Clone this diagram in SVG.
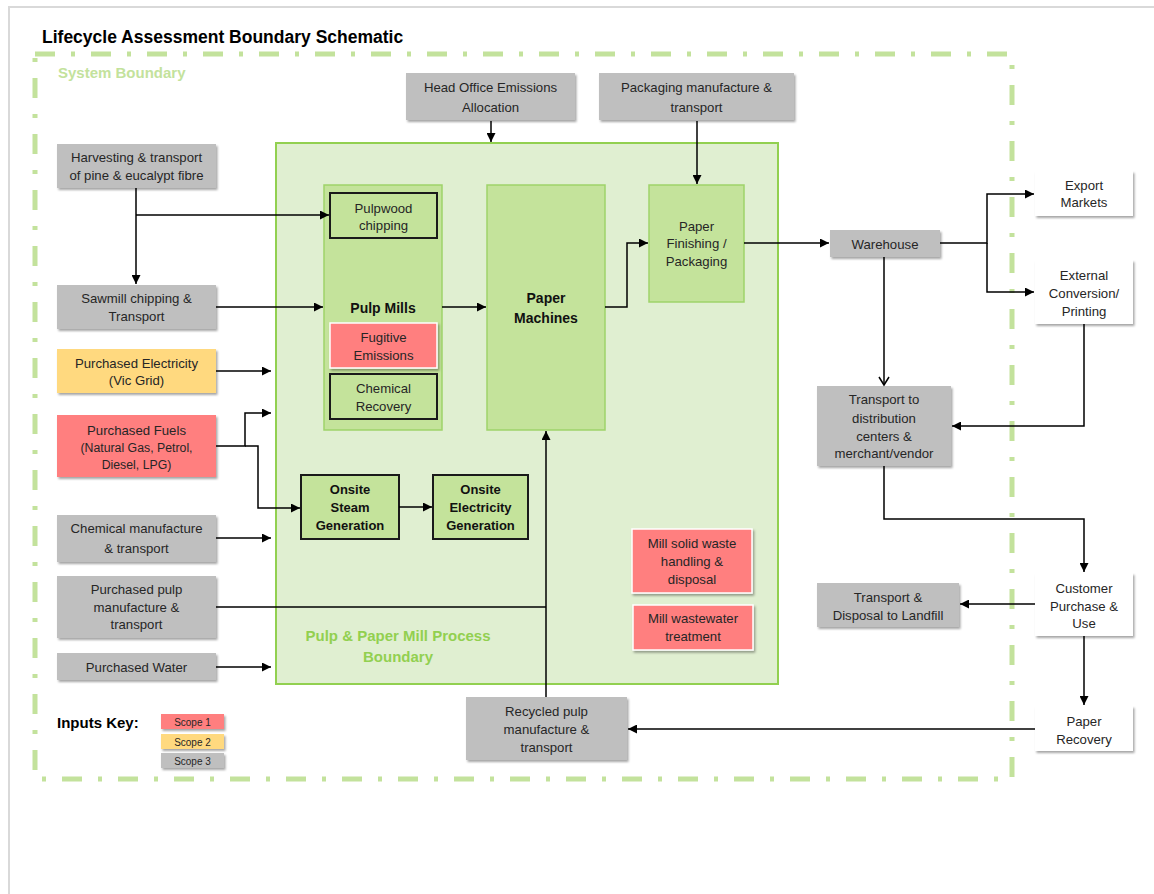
<svg xmlns="http://www.w3.org/2000/svg" width="1154" height="894" viewBox="0 0 1154 894">
<style>
text{font-family:"Liberation Sans",Arial,sans-serif;fill:#262626;text-anchor:middle;dominant-baseline:central}
.n{font-size:13.2px}
.b{font-weight:bold;font-size:13px;fill:#111}
.gray{fill:#bfbfbf}
.red{fill:#ff7f7f}
.yel{fill:#ffd97f}
.wht{fill:#ffffff}
.sh{filter:url(#ds)}
.g1{fill:#c4e39b;stroke:#9ed36a;stroke-width:1.5}
.g2{fill:#c4e39b;stroke:#1a1a1a;stroke-width:2}
.c{fill:none;stroke:#000;stroke-width:1.5}
</style>
<defs>
<filter id="ds" x="-10%" y="-10%" width="130%" height="140%">
<feDropShadow dx="1.5" dy="2" stdDeviation="1.2" flood-color="#000" flood-opacity="0.35"/>
</filter>
<marker id="a" markerWidth="10" markerHeight="9" refX="9" refY="4.5" orient="auto" markerUnits="userSpaceOnUse">
<path d="M0,0 L9,4.5 L0,9 z" fill="#000"/>
</marker>
<marker id="o" markerWidth="12" markerHeight="12" refX="9" refY="6" orient="auto" markerUnits="userSpaceOnUse">
<path d="M1,1 L9,6 L1,11" fill="none" stroke="#000" stroke-width="1.5"/>
</marker>
</defs>
<rect width="1154" height="894" fill="#fff"/>
<path d="M9,894 V7 H1154" fill="none" stroke="#d9d9d9" stroke-width="2"/>
<text x="42" y="37" style="font-size:17.5px;font-weight:bold;fill:#000;text-anchor:start">Lifecycle Assessment Boundary Schematic</text>
<g id="system-boundary">
<rect x="35" y="54" width="977" height="725" fill="none" stroke="#c3e29c" stroke-width="5" stroke-dasharray="20 16 4 16"/>
<text x="58" y="72" style="font-size:15px;font-weight:bold;fill:#c3e29c;text-anchor:start">System Boundary</text>
</g>
<g id="process-boundary">
<rect x="276" y="143" width="502" height="541" fill="#e0efd1" stroke="#92d050" stroke-width="2"/>
<text x="398" y="635" style="font-size:15px;font-weight:bold;fill:#92d050">Pulp &amp; Paper Mill Process</text>
<text x="398" y="656" style="font-size:15px;font-weight:bold;fill:#92d050">Boundary</text>
</g>
<g id="pulp-mills">
<rect class="g1" x="324" y="185" width="118" height="245"/>
<text x="383" y="308" style="font-size:14px;font-weight:bold;fill:#111">Pulp Mills</text>
</g>
<g id="pulpwood-chipping">
<rect class="g2" x="330" y="193" width="107" height="45"/>
<text class="n" x="383.5" y="208">Pulpwood</text>
<text class="n" x="383.5" y="225">chipping</text>
</g>
<g id="fugitive-emissions">
<rect class="red sh" x="330" y="323" width="107" height="45" stroke="#fff" stroke-width="1.5"/>
<text class="n" x="383.5" y="337">Fugitive</text>
<text class="n" x="383.5" y="355">Emissions</text>
</g>
<g id="chemical-recovery">
<rect class="g2" x="330" y="374" width="107" height="45"/>
<text class="n" x="383.5" y="388">Chemical</text>
<text class="n" x="383.5" y="406">Recovery</text>
</g>
<g id="paper-machines">
<rect class="g1" x="487" y="185" width="118" height="245"/>
<text x="546" y="298" style="font-size:14px;font-weight:bold;fill:#111">Paper</text>
<text x="546" y="318" style="font-size:14px;font-weight:bold;fill:#111">Machines</text>
</g>
<g id="paper-finishing">
<rect class="g1" x="649" y="185" width="95" height="117"/>
<text class="n" x="696.5" y="226">Paper</text>
<text class="n" x="696.5" y="243">Finishing /</text>
<text class="n" x="696.5" y="261">Packaging</text>
</g>
<g id="onsite-steam">
<rect class="g2" x="301" y="475" width="98" height="64"/>
<text class="b" x="350" y="489">Onsite</text>
<text class="b" x="350" y="507">Steam</text>
<text class="b" x="350" y="525">Generation</text>
</g>
<g id="onsite-electricity">
<rect class="g2" x="433" y="475" width="95" height="64"/>
<text class="b" x="480.5" y="489">Onsite</text>
<text class="b" x="480.5" y="507">Electricity</text>
<text class="b" x="480.5" y="525">Generation</text>
</g>
<g id="mill-solid-waste">
<rect class="red sh" x="632" y="529" width="120" height="64" stroke="#fff" stroke-width="1.5"/>
<text class="n" x="692" y="543">Mill solid waste</text>
<text class="n" x="692" y="561">handling &amp;</text>
<text class="n" x="692" y="579">disposal</text>
</g>
<g id="mill-wastewater">
<rect class="red sh" x="633" y="605" width="120" height="45" stroke="#fff" stroke-width="1.5"/>
<text class="n" x="693" y="618">Mill wastewater</text>
<text class="n" x="693" y="636">treatment</text>
</g>
<g id="head-office">
<rect class="gray sh" x="406" y="73" width="169" height="47"/>
<text class="n" x="490.5" y="87">Head Office Emissions</text>
<text class="n" x="490.5" y="107">Allocation</text>
</g>
<g id="packaging">
<rect class="gray sh" x="599" y="73" width="195" height="47"/>
<text class="n" x="696.5" y="87">Packaging manufacture &amp;</text>
<text class="n" x="696.5" y="107">transport</text>
</g>
<g id="harvesting">
<rect class="gray sh" x="57" y="144" width="159" height="44"/>
<text class="n" x="136.5" y="157">Harvesting &amp; transport</text>
<text class="n" x="136.5" y="175">of pine &amp; eucalypt fibre</text>
</g>
<g id="sawmill">
<rect class="gray sh" x="57" y="285" width="159" height="44"/>
<text class="n" x="136.5" y="298">Sawmill chipping &amp;</text>
<text class="n" x="136.5" y="316">Transport</text>
</g>
<g id="purchased-electricity">
<rect class="yel sh" x="57" y="349" width="159" height="44"/>
<text class="n" x="136.5" y="363">Purchased Electricity</text>
<text class="n" x="136.5" y="380">(Vic Grid)</text>
</g>
<g id="purchased-fuels">
<rect class="red sh" x="57" y="415" width="159" height="62"/>
<text class="n" x="136.5" y="430">Purchased Fuels</text>
<text x="136.5" y="448" style="font-size:12.3px">(Natural Gas, Petrol,</text>
<text x="136.5" y="465" style="font-size:12.3px">Diesel, LPG)</text>
</g>
<g id="chemical-manufacture">
<rect class="gray sh" x="57" y="515" width="159" height="47"/>
<text class="n" x="136.5" y="528">Chemical manufacture</text>
<text class="n" x="136.5" y="548">&amp; transport</text>
</g>
<g id="purchased-pulp">
<rect class="gray sh" x="57" y="576" width="159" height="62"/>
<text class="n" x="136.5" y="589">Purchased pulp</text>
<text class="n" x="136.5" y="607">manufacture &amp;</text>
<text class="n" x="136.5" y="624">transport</text>
</g>
<g id="purchased-water">
<rect class="gray sh" x="57" y="653" width="159" height="27"/>
<text class="n" x="136.5" y="667">Purchased Water</text>
</g>
<g id="recycled-pulp">
<rect class="gray sh" x="466" y="697" width="161" height="63"/>
<text class="n" x="546.5" y="711">Recycled pulp</text>
<text class="n" x="546.5" y="729">manufacture &amp;</text>
<text class="n" x="546.5" y="747">transport</text>
</g>
<g id="warehouse">
<rect class="gray sh" x="830" y="230" width="110" height="27"/>
<text class="n" x="885" y="244">Warehouse</text>
</g>
<g id="export-markets">
<rect class="wht sh" x="1035" y="171" width="98" height="45"/>
<text class="n" x="1084" y="185">Export</text>
<text class="n" x="1084" y="202">Markets</text>
</g>
<g id="external-conversion">
<rect class="wht sh" x="1035" y="260" width="98" height="64"/>
<text class="n" x="1084" y="275">External</text>
<text class="n" x="1084" y="293">Conversion/</text>
<text class="n" x="1084" y="311">Printing</text>
</g>
<g id="transport-distribution">
<rect class="gray sh" x="817" y="386" width="134" height="80"/>
<text class="n" x="884" y="399">Transport to</text>
<text class="n" x="884" y="418">distribution</text>
<text class="n" x="884" y="436">centers &amp;</text>
<text class="n" x="884" y="453">merchant/vendor</text>
</g>
<g id="transport-landfill">
<rect class="gray sh" x="817" y="583" width="142" height="44"/>
<text class="n" x="888" y="597">Transport &amp;</text>
<text class="n" x="888" y="615">Disposal to Landfill</text>
</g>
<g id="customer">
<rect class="wht sh" x="1035" y="573" width="98" height="63"/>
<text class="n" x="1084" y="588">Customer</text>
<text class="n" x="1084" y="606">Purchase &amp;</text>
<text class="n" x="1084" y="623">Use</text>
</g>
<g id="paper-recovery">
<rect class="wht sh" x="1035" y="706" width="98" height="45"/>
<text class="n" x="1084" y="721">Paper</text>
<text class="n" x="1084" y="739">Recovery</text>
</g>
<g id="inputs-key">
<text x="57" y="722" style="font-size:15px;font-weight:bold;fill:#000;text-anchor:start">Inputs Key:</text>
<rect class="red sh" x="161" y="714" width="63" height="15"/>
<text x="192.5" y="722" style="font-size:10px">Scope 1</text>
<rect class="yel sh" x="161" y="734" width="63" height="15"/>
<text x="192.5" y="742" style="font-size:10px">Scope 2</text>
<rect class="gray sh" x="161" y="753" width="63" height="15"/>
<text x="192.5" y="761" style="font-size:10px">Scope 3</text>
</g>
<g id="connectors">
<path class="c" d="M491,121 V142" marker-end="url(#a)"/>
<path class="c" d="M697,121 V184" marker-end="url(#a)"/>
<path class="c" d="M136,188 V284" marker-end="url(#a)"/>
<path class="c" d="M136,215 H329" marker-end="url(#a)"/>
<path class="c" d="M216,307 H323" marker-end="url(#a)"/>
<path class="c" d="M442,307 H486" marker-end="url(#a)"/>
<path class="c" d="M605,307 H627 V243 H648" marker-end="url(#a)"/>
<path class="c" d="M744,243 H829" marker-end="url(#a)"/>
<path class="c" d="M216,371 H271" marker-end="url(#a)"/>
<path class="c" d="M216,446 H245 V413 H271" marker-end="url(#a)"/>
<path class="c" d="M245,446 H258 V508 H300" marker-end="url(#a)"/>
<path class="c" d="M399,507 H432" marker-end="url(#a)"/>
<path class="c" d="M216,538 H271" marker-end="url(#a)"/>
<path class="c" d="M216,607 H546"/>
<path class="c" d="M546,697 V431" marker-end="url(#a)"/>
<path class="c" d="M216,667 H271" marker-end="url(#a)"/>
<path class="c" d="M940,243 H987 V194 H1034" marker-end="url(#a)"/>
<path class="c" d="M987,243 V292 H1034" marker-end="url(#a)"/>
<path class="c" d="M884,257 V385" marker-end="url(#o)"/>
<path class="c" d="M1084,324 V426 H952" marker-end="url(#a)"/>
<path class="c" d="M884,466 V519 H1084 V572" marker-end="url(#a)"/>
<path class="c" d="M1035,604 H960" marker-end="url(#a)"/>
<path class="c" d="M1084,636 V705" marker-end="url(#a)"/>
<path class="c" d="M1035,729 H628" marker-end="url(#a)"/>
</g>
</svg>
